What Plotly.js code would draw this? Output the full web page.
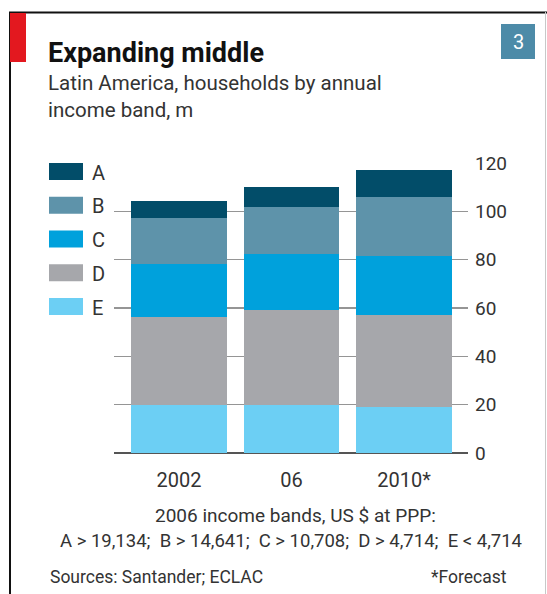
<!DOCTYPE html>
<html><head><meta charset="utf-8">
<script src="https://cdn.plot.ly/plotly-3.0.1.min.js"></script>
<style>html,body{margin:0;padding:0;background:#fff;}#chart{width:547px;height:594px;}</style>
</head><body><div id="chart"></div>
<script>
const years = ["2002", "06", "2010*"];
const bandNames = ["A", "B", "C", "D", "E"];
const bandColors = ["#024d69", "#5e93aa", "#00a1dc", "#a6a7ab", "#6ccff4"];
const bandA = [6.9, 8.0, 11.0];
const bandB = [18.9, 19.6, 24.3];
const bandC = [22.2, 23.1, 24.7];
const bandD = [36.1, 39.3, 37.9];
const bandE = [20.0, 20.0, 19.1];
const yTicks = [0, 20, 40, 60, 80, 100, 120];

const stackOrder = [["E", bandE], ["D", bandD], ["C", bandC], ["B", bandB], ["A", bandA]];
const traces = stackOrder.map(([name, vals]) => ({
  type: "bar", name: name, x: years, y: vals,
  marker: {color: bandColors[bandNames.indexOf(name)], line: {width: 0}},
  width: 0.853, hoverinfo: "skip", showlegend: false
}));

const W = 547, H = 594, ML = 114, MR = 79, MT = 163, MB = 141;
const PW = W - ML - MR, PH = H - MT - MB;
const px = x => (x - ML) / PW;
const py = y => (H - MB - y) / PH;

const font = "Roboto, 'Open Sans', sans-serif";
const shapes = [
  {type: "line", x0: px(9), x1: px(547), y0: py(12.5), y1: py(12.5), line: {color: "#111", width: 2}},
  {type: "line", x0: px(10), x1: px(10), y0: py(594), y1: py(12), line: {color: "#111", width: 2}},
  {type: "line", x0: px(545.5), x1: px(545.5), y0: py(594), y1: py(12), line: {color: "#c8c8c8", width: 1}},
  {type: "rect", x0: px(10), x1: px(26), y0: py(62), y1: py(13), fillcolor: "#e3181f", line: {width: 0}},
  {type: "rect", x0: px(501), x1: px(535), y0: py(59), y1: py(24), fillcolor: "#4d8ba8", line: {width: 0}}
].map(s => Object.assign({xref: "paper", yref: "paper", layer: "above"}, s));

const annotations = [
  {text: "<b>Expanding middle</b>", x: px(46), y: py(53), font: {size: 27, color: "#111", family: font}},
  {text: "Latin America, households by annual", x: px(46), y: py(83), font: {size: 20.5, color: "#333", family: font}},
  {text: "income band, m", x: px(46), y: py(110), font: {size: 20.5, color: "#333", family: font}},
  {text: "3", x: px(518), y: py(41.5), xanchor: "center", font: {size: 20, color: "#fff", family: font}},
  {text: "2006 income bands, US $ at PPP:", x: px(295), y: py(515.5), xanchor: "center", font: {size: 19, color: "#333", family: font}},
  {text: "A > 19,134;  B > 14,641;  C > 10,708;  D > 4,714;  E < 4,714", x: px(291), y: py(540.5), xanchor: "center", font: {size: 18.5, color: "#333", family: font}},
  {text: "Sources: Santander; ECLAC", x: px(48), y: py(577), font: {size: 17.5, color: "#333", family: font}},
  {text: "*Forecast", x: px(509), y: py(577), xanchor: "right", font: {size: 17.5, color: "#333", family: font}}
].map(a => Object.assign({xref: "paper", yref: "paper", xanchor: "left", yanchor: "middle", showarrow: false}, a));

bandNames.forEach((n, i) => {
  const cy = 171.5 + i * 33.75;
  shapes.push({type: "rect", xref: "paper", yref: "paper", x0: px(49), x1: px(83), y0: py(cy + 8.5), y1: py(cy - 8.5), fillcolor: bandColors[i], line: {width: 0}});
  annotations.push({xref: "paper", yref: "paper", x: px(90), y: py(cy + 1), xanchor: "left", yanchor: "middle", showarrow: false, text: n, font: {size: 20, color: "#333", family: font}});
});

const layout = {
  width: W, height: H,
  margin: {l: ML, r: MR, t: MT, b: MB},
  paper_bgcolor: "#fff", plot_bgcolor: "#fff",
  barmode: "stack", bargap: 0,
  showlegend: false,
  font: {family: font, color: "#333"},
  xaxis: {type: "category", range: [-0.578, 2.569], showgrid: false, zeroline: false, showline: false,
          ticks: "", tickfont: {size: 20, color: "#333"}, ticklabelstandoff: 13, fixedrange: true},
  yaxis: {range: [0, 120], side: "right", tickvals: yTicks, ticktext: yTicks.map(String),
          showgrid: true, gridcolor: "#959595", gridwidth: 1.5, zeroline: true, zerolinecolor: "#555", zerolinewidth: 1.5,
          ticks: "", tickfont: {size: 19, color: "#333"}, ticklabelstandoff: 6, showline: false, fixedrange: true},
  shapes: shapes,
  annotations: annotations
};
Plotly.newPlot("chart", traces, layout, {displayModeBar: false, staticPlot: true});
</script>
</body></html>
